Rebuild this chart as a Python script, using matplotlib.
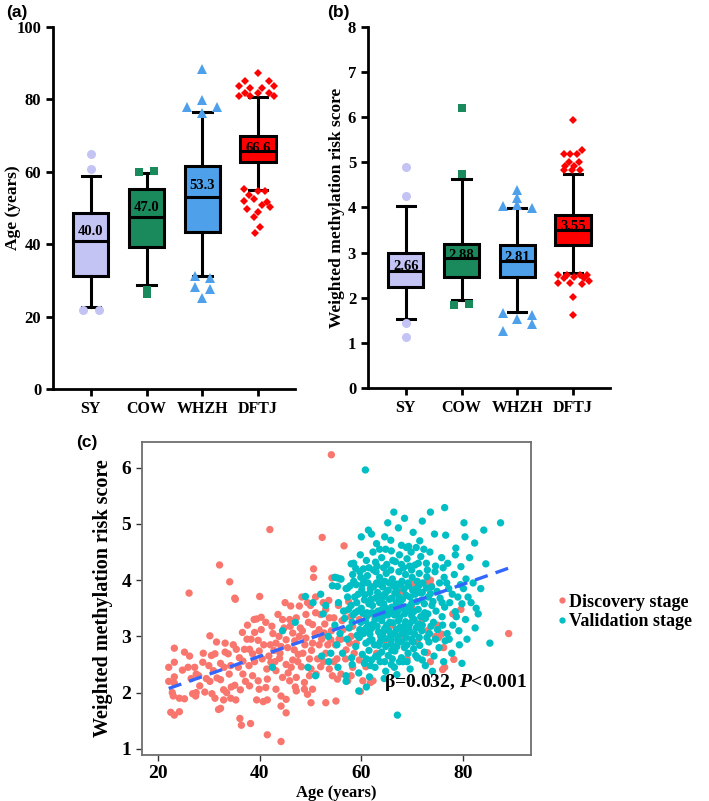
import numpy as np
import matplotlib.pyplot as plt
from matplotlib.lines import Line2D

plt.rcParams['font.family'] = ['Liberation Serif', 'DejaVu Serif']
plt.rcParams['font.weight'] = 'bold'
plt.rcParams['mathtext.fontset'] = 'custom'
plt.rcParams['mathtext.it'] = 'Liberation Serif:italic:bold'
plt.rcParams['mathtext.rm'] = 'Liberation Serif:bold'

groups = ['SY', 'COW', 'WHZH', 'DFTJ']
box_colors = ['#c3c3f4', '#1a8a5c', '#4ea0ea', '#ff0000']
flier_markers = ['o', 's', '^', 'D']
flier_sizes = [6.5, 5.5, 6.5, 4.5]

# panel (a): age per cohort
age_q1 = [31.2, 39.2, 43.4, 62.7]
age_med = [41.0, 47.5, 52.9, 65.6]
age_q3 = [48.5, 55.1, 61.7, 69.9]
age_lo = [22.6, 28.7, 31.2, 55.0]
age_hi = [58.8, 59.7, 76.4, 80.6]
age_mean = ['40.0', '47.0', '53.3', '66.6']
age_out = [
    [64.8, 60.7, 21.8, 21.8],
    [60.0, 60.2, 27.4, 26.2],
    [88.5, 79.7, 77.9, 77.9, 76.2, 31.2, 30.7, 28.2, 27.5, 25.2],
    [87.3, 85.0, 85.0, 83.7, 83.2, 83.2, 83.7, 81.8, 81.8, 81.8, 80.9, 80.9, 81.0,
     55.2, 54.8, 54.8, 53.7, 52.4, 52.0, 51.6, 50.7, 50.3, 49.6, 48.8, 47.5, 44.8, 43.0],
]
age_out_dx = [
    [0, 0, -0.14, 0.14],
    [-0.13, 0.13, 0, 0],
    [0, 0, -0.27, 0.27, 0, -0.13, 0.14, -0.13, 0.14, 0],
    [0, -0.23, 0.19, -0.35, -0.14, 0.07, 0.28, -0.23, 0, 0.19, -0.35, -0.14, 0.28,
     -0.26, 0, 0.13, -0.17, -0.08, -0.26, 0.16, 0.07, 0.22, -0.2, 0, -0.08, 0.04, -0.05],
]

# panel (b): weighted methylation risk score per cohort
wmrs_q1 = [2.24, 2.46, 2.46, 3.16]
wmrs_med = [2.59, 2.87, 2.81, 3.50]
wmrs_q3 = [3.00, 3.20, 3.16, 3.84]
wmrs_lo = [1.54, 1.96, 1.69, 2.55]
wmrs_hi = [4.03, 4.64, 3.98, 4.75]
wmrs_mean = ['2.66', '2.88', '2.81', '3.55']
wmrs_out = [
    [4.90, 4.25, 1.44, 1.12],
    [6.21, 4.75, 1.84, 1.86],
    [4.39, 4.21, 4.03, 4.05, 3.98, 1.67, 1.52, 1.62, 1.41, 1.26],
    [5.95, 5.28, 5.19, 5.19, 5.19, 5.00, 5.00, 4.93, 4.93, 4.82, 4.82, 4.82,
     2.50, 2.50, 2.50, 2.50, 2.44, 2.45, 2.44, 2.32, 2.33, 2.31, 2.38, 2.02, 1.61],
]
wmrs_out_dx = [
    [0, 0, 0, 0],
    [0, 0, -0.13, 0.13],
    [0, 0, -0.26, 0, 0.27, -0.26, 0, 0.27, 0.27, -0.26],
    [0, 0.16, -0.17, -0.05, 0.07, -0.08, 0.10, -0.14, 0.01, -0.17, -0.02, 0.13,
     -0.26, -0.11, 0.13, 0.25, -0.17, 0.01, 0.19, -0.26, -0.05, 0.16, 0.28, 0, 0],
]

# panel (c): age vs score, (age, score) pairs
disc = np.array([
    (23.2, 2.79), (23.2, 2.54), (22.1, 2.45), (22.1, 2.20), (23.2, 2.28), (23.2, 2.17),
    (23.0, 1.94), (24.2, 1.90), (25.2, 1.89), (24.2, 1.66), (23.2, 1.60), (25.2, 2.72),
    (26.2, 2.65), (25.9, 2.45), (27.2, 2.45), (27.5, 2.33), (27.5, 2.00), (27.4, 1.94),
    (29.2, 2.01), (28.8, 2.54), (28.9, 2.70), (30.2, 3.01), (30.5, 2.66), (31.2, 2.69),
    (31.5, 2.90), (30.9, 2.39), (30.2, 2.20), (31.6, 2.26), (32.3, 2.23), (32.3, 2.52),
    (33.2, 2.88), (33.2, 2.72), (33.8, 2.69), (34.0, 2.33), (34.3, 2.48), (32.9, 2.05),
    (31.2, 1.90), (31.9, 1.70), (32.3, 1.72), (32.9, 1.87), (34.3, 1.90), (35.3, 1.87),
    (34.4, 2.10), (35.4, 2.77), (35.1, 2.13), (36.1, 1.54), (36.4, 1.42), (38.2, 1.45),
    (36.6, 3.07), (39.0, 3.07), (39.4, 3.31), (40.3, 3.34), (40.3, 3.12), (41.2, 3.25),
    (39.7, 2.93), (37.0, 2.77), (38.0, 2.77), (38.6, 2.69), (39.9, 2.74), (36.7, 2.56),
    (37.9, 2.48), (36.7, 2.33), (38.6, 2.30), (39.7, 2.21), (38.0, 2.12), (39.9, 2.06),
    (41.2, 2.09), (41.5, 2.24), (41.4, 2.42), (42.2, 2.54), (39.4, 1.87), (40.7, 1.84),
    (41.5, 1.87), (41.5, 1.25), (35.2, 3.66), (42.0, 4.90), (32.1, 4.27), (34.1, 3.97),
    (26.1, 3.77), (35.1, 3.68), (40.0, 3.71), (37.5, 2.95), (40.8, 2.85), (41.8, 2.65),
    (42.6, 3.05), (37.2, 2.20), (35.8, 2.45), (29.5, 2.25), (28.2, 2.12), (26.5, 2.25),
    (24.8, 2.40), (22.5, 1.65), (22.8, 2.00), (33.5, 2.00), (36.2, 2.05), (30.6, 1.98),
    (46.1, 3.54), (47.8, 3.54), (49.4, 3.60), (49.1, 3.39), (43.6, 3.39), (44.5, 3.30),
    (45.9, 3.30), (47.2, 3.33), (51.0, 3.42), (52.0, 3.39), (53.0, 3.48), (53.7, 3.33),
    (54.6, 3.33), (50.4, 3.21), (51.7, 3.12), (52.7, 3.06), (49.1, 2.97), (50.4, 2.88),
    (51.7, 2.85), (54.0, 2.94), (54.9, 2.85), (46.5, 3.06), (47.8, 3.00), (45.2, 2.94),
    (44.2, 2.82), (43.2, 2.88), (46.8, 2.76), (48.5, 2.70), (46.5, 2.58), (47.5, 2.55),
    (48.2, 2.46), (46.2, 2.45), (45.2, 2.50), (43.9, 2.61), (43.2, 2.39), (44.5, 2.27),
    (45.9, 2.21), (47.2, 2.27), (48.8, 2.18), (50.1, 2.42), (51.1, 2.33), (52.0, 2.46),
    (53.7, 2.42), (54.3, 2.30), (55.3, 2.24), (56.0, 2.33), (57.3, 2.21), (58.0, 2.30),
    (58.3, 2.45), (43.2, 2.06), (44.2, 1.94), (45.2, 1.88), (47.2, 2.03), (48.8, 2.06),
    (50.4, 2.06), (49.4, 1.97), (44.2, 1.76), (45.2, 1.64), (50.1, 1.82), (53.0, 1.82),
    (55.0, 1.85), (44.2, 1.13), (58.3, 3.18), (59.6, 3.30), (56.4, 3.12), (58.0, 3.00),
    (59.0, 2.88), (57.0, 2.76), (59.6, 2.58), (60.9, 2.46), (62.3, 2.21), (60.3, 2.21),
    (61.8, 2.18), (59.8, 2.02), (54.1, 6.23), (52.3, 4.76), (56.6, 4.61), (55.9, 4.02),
    (50.6, 4.20), (50.6, 4.05), (54.2, 4.04), (48.3, 3.70), (51.0, 3.70), (53.6, 3.64),
    (62.1, 3.88), (55.5, 3.55), (56.8, 3.45), (57.5, 3.62), (45.0, 3.60), (48.0, 3.15),
    (50.0, 3.55), (52.5, 3.60), (56.0, 2.95), (55.2, 2.60), (53.0, 2.70), (49.8, 2.60),
    (44.8, 3.15), (43.8, 3.00), (42.8, 2.75), (62.0, 3.40), (64.0, 3.60), (66.0, 3.20),
    (68.0, 3.00), (70.0, 3.50), (72.0, 3.30), (73.0, 3.10), (68.0, 3.80), (75.0, 3.20),
    (78.0, 3.40), (70.1, 3.93), (73.0, 3.98), (79.6, 3.48), (78.6, 3.36), (73.6, 4.00),
    (73.8, 3.90), (75.2, 2.98), (75.8, 3.04), (89.0, 3.05), (76.4, 2.45), (76.0, 2.41),
    (73.6, 2.55), (78.2, 2.59), (73.0, 2.71), (76.2, 2.80), (74.6, 3.00), (65.0, 2.90),
    (63.0, 2.70), (67.0, 3.50), (61.0, 3.10), (69.0, 2.60), (71.0, 2.90),
    (42.4, 3.18), (43.0, 2.55), (44.0, 2.70), (45.5, 2.80), (46.0, 3.18), (46.9, 2.92),
    (47.6, 2.68), (48.4, 3.10), (48.9, 2.85), (49.6, 3.25), (50.2, 2.75), (50.9, 3.05),
    (51.4, 2.60), (52.2, 2.95), (52.8, 3.22), (53.4, 2.85), (54.1, 3.10), (54.6, 2.55),
    (55.6, 2.95), (56.2, 3.28), (56.9, 2.60), (57.7, 2.88), (58.6, 2.70), (57.9, 3.35),
    (39.0, 2.55), (40.5, 2.60), (38.3, 2.95), (37.6, 3.20), (42.1, 2.85), (36.0, 2.62),
    (34.8, 2.85), (33.0, 2.45), (30.0, 2.48), (28.0, 2.30), (26.8, 1.98), (38.9, 3.30),
    (45.6, 2.35), (49.8, 2.30), (52.6, 2.55), (47.0, 2.10),
])

val = np.array([
    (60.8, 5.96), (60.0, 4.77), (61.4, 4.89), (62.0, 4.82), (63.6, 4.55), (64.6, 4.77),
    (65.2, 5.02), (65.8, 4.71), (66.4, 5.21), (67.3, 4.93), (68.5, 5.10), (69.3, 4.60),
    (70.2, 4.85), (71.5, 4.70), (72.0, 5.05), (73.6, 5.21), (74.4, 4.82), (76.4, 5.29),
    (76.6, 4.80), (78.6, 4.57), (80.2, 5.02), (80.4, 4.77), (82.3, 4.66), (84.1, 4.89),
    (87.4, 5.02), (63.0, 4.65), (67.9, 4.62), (70.8, 4.58),
    (58.5, 4.30), (59.8, 4.45), (61.0, 4.35), (62.3, 4.50), (63.1, 4.25), (64.0, 4.40),
    (65.0, 4.28), (65.9, 4.52), (66.7, 4.33), (67.5, 4.45), (68.3, 4.22), (69.0, 4.38),
    (69.8, 4.50), (70.6, 4.27), (71.7, 4.42), (72.8, 4.30), (73.5, 4.50), (74.6, 4.25),
    (75.8, 4.40), (77.0, 4.30), (78.5, 4.45), (84.5, 4.29), (60.4, 4.20), (64.8, 4.55),
    (68.9, 4.58), (72.3, 4.55), (76.1, 4.22), (79.6, 4.24), (81.3, 4.40),
    (56.0, 4.02), (57.0, 3.85), (58.3, 4.10), (59.0, 3.92), (59.7, 4.15), (60.5, 3.98),
    (61.2, 4.08), (61.8, 3.85), (62.4, 4.18), (63.0, 3.95), (63.6, 4.05), (64.2, 3.88),
    (64.9, 4.12), (65.5, 3.95), (66.1, 4.02), (66.8, 3.86), (67.4, 4.15), (68.0, 3.98),
    (68.7, 4.10), (69.3, 3.90), (70.0, 4.05), (70.7, 3.84), (71.4, 4.12), (72.1, 3.95),
    (72.9, 4.06), (73.8, 3.88), (74.5, 4.15), (75.4, 3.95), (76.3, 4.05), (77.2, 3.85),
    (78.3, 4.10), (79.5, 3.92), (80.6, 4.02), (82.0, 3.95), (83.5, 3.85), (60.1, 3.83),
    (62.9, 4.15), (65.8, 4.18), (69.9, 4.18), (71.0, 3.98), (67.0, 3.93),
    (55.5, 3.60), (56.5, 3.45), (57.3, 3.70), (58.0, 3.55), (58.8, 3.42), (59.4, 3.75),
    (60.0, 3.50), (60.6, 3.65), (61.1, 3.42), (61.7, 3.78), (62.2, 3.55), (62.8, 3.68),
    (63.3, 3.45), (63.9, 3.72), (64.4, 3.58), (65.0, 3.41), (65.5, 3.66), (66.0, 3.52),
    (66.6, 3.77), (67.1, 3.44), (67.7, 3.62), (68.2, 3.50), (68.8, 3.73), (69.4, 3.46),
    (70.0, 3.60), (70.6, 3.75), (71.2, 3.48), (71.9, 3.65), (72.5, 3.42), (73.2, 3.70),
    (73.9, 3.55), (74.7, 3.45), (75.5, 3.68), (76.4, 3.52), (77.4, 3.60), (78.5, 3.44),
    (79.8, 3.58), (81.0, 3.70), (82.6, 3.50), (60.3, 3.41), (61.5, 3.58), (62.5, 3.41),
    (63.6, 3.60), (64.7, 3.76), (65.8, 3.44), (66.9, 3.60), (68.5, 3.40), (69.8, 3.56),
    (71.5, 3.78), (59.1, 3.60), (64.1, 3.48), (67.4, 3.70), (70.3, 3.44),
    (54.8, 3.20), (55.8, 3.05), (56.7, 3.32), (57.6, 3.15), (58.4, 3.38), (59.2, 3.02),
    (59.9, 3.25), (60.5, 3.10), (61.1, 3.36), (61.7, 3.04), (62.3, 3.22), (62.9, 3.35),
    (63.4, 3.08), (64.0, 3.28), (64.6, 3.14), (65.2, 3.38), (65.8, 3.02), (66.3, 3.24),
    (66.9, 3.12), (67.5, 3.34), (68.1, 3.06), (68.7, 3.26), (69.3, 3.15), (69.9, 3.37),
    (70.5, 3.04), (71.2, 3.22), (71.9, 3.10), (72.6, 3.32), (73.4, 3.05), (74.2, 3.25),
    (75.0, 3.12), (75.9, 3.35), (76.9, 3.05), (78.0, 3.20), (79.2, 3.10), (80.5, 3.30),
    (82.4, 3.15), (60.8, 3.28), (62.0, 3.14), (63.8, 3.02), (65.0, 3.20), (66.5, 3.38),
    (68.4, 3.18), (70.1, 3.28), (72.2, 3.38), (61.4, 3.20), (64.3, 3.36), (67.2, 3.00),
    (69.6, 3.08),
    (55.2, 2.85), (56.3, 2.70), (57.2, 2.95), (58.1, 2.62), (58.9, 2.82), (59.6, 2.98),
    (60.2, 2.68), (60.9, 2.88), (61.5, 2.75), (62.1, 2.94), (62.8, 2.64), (63.4, 2.84),
    (64.0, 2.72), (64.7, 2.96), (65.3, 2.66), (65.9, 2.86), (66.6, 2.74), (67.2, 2.92),
    (67.9, 2.62), (68.5, 2.80), (69.2, 2.70), (69.9, 2.95), (70.7, 2.66), (71.5, 2.84),
    (72.4, 2.72), (73.3, 2.90), (74.3, 2.65), (75.3, 2.80), (76.5, 2.92), (77.8, 2.70),
    (79.3, 2.85), (85.3, 2.88), (61.0, 2.60), (63.9, 2.98), (66.1, 2.60), (68.8, 2.98),
    (71.0, 2.62),
    (55.4, 2.45), (57.0, 2.30), (58.2, 2.50), (59.5, 2.35), (60.6, 2.52), (61.6, 2.28),
    (62.7, 2.45), (63.7, 2.55), (64.8, 2.38), (65.9, 2.50), (67.0, 2.32), (68.2, 2.55),
    (69.6, 2.42), (71.1, 2.62), (79.8, 2.52), (72.6, 2.48), (74.0, 2.38), (76.2, 2.55),
    (62.0, 2.58), (66.5, 2.45), (59.5, 2.03), (67.1, 1.60), (57.0, 2.20), (61.0, 2.10),
    (64.5, 2.25),
    (49.0, 3.71), (44.5, 3.10), (42.5, 2.45), (47.0, 3.25), (49.5, 2.45), (51.0, 2.30),
    (50.5, 3.60), (52.5, 3.40), (53.5, 3.00), (54.0, 2.70), (52.0, 3.75), (53.0, 3.55),
    (54.3, 3.90), (54.8, 4.05), (53.6, 2.55), (52.2, 2.65), (55.3, 4.04), (55.3, 3.89),
    (58.0, 4.29), (58.9, 4.21), (58.5, 3.98), (57.3, 3.86),
    # dense core of the validation cloud
    (60.2, 3.92), (60.7, 3.74), (61.3, 3.95), (61.9, 3.66), (62.4, 3.88), (62.7, 3.30),
    (63.2, 3.78), (63.5, 3.93), (63.8, 3.36), (64.3, 3.70), (64.6, 3.98), (64.9, 3.50),
    (65.3, 3.82), (65.6, 3.25), (66.0, 3.68), (66.3, 3.90), (66.7, 3.48), (67.0, 3.81),
    (67.3, 3.28), (67.8, 3.92), (68.1, 3.66), (68.4, 3.84), (68.9, 3.52), (69.2, 3.95),
    (69.6, 3.70), (70.1, 3.82), (70.4, 3.30), (70.9, 3.62), (71.3, 3.90), (71.7, 3.35),
    (72.0, 3.78), (72.4, 3.58), (72.8, 3.86), (73.1, 3.40), (73.6, 3.76), (74.1, 3.62),
    (60.4, 3.05), (61.0, 3.15), (61.6, 2.92), (62.1, 3.42), (62.6, 2.85), (63.1, 3.18),
    (63.7, 2.90), (64.2, 3.05), (64.8, 2.82), (65.4, 3.10), (65.9, 2.95), (66.4, 3.05),
    (67.0, 2.82), (67.6, 3.16), (68.0, 2.90), (68.6, 3.08), (69.0, 2.85), (69.5, 3.22),
    (70.2, 2.90), (70.8, 3.15), (71.4, 2.98), (72.0, 3.20), (72.9, 2.98), (73.7, 3.18),
    (59.3, 3.45), (59.7, 3.12), (58.7, 3.70), (58.2, 3.25), (57.8, 3.90), (57.5, 3.48),
    (59.9, 4.05), (61.5, 4.22), (62.8, 4.32), (64.4, 4.22), (66.2, 4.35), (67.9, 4.28),
    (69.5, 4.25), (71.2, 4.30), (73.0, 4.18), (74.9, 3.80), (75.9, 3.60), (76.8, 3.95),
    (77.9, 3.75), (79.0, 3.70), (80.1, 3.85), (81.6, 3.60), (74.6, 2.95), (76.0, 3.20),
    (77.3, 2.95), (78.7, 3.35), (80.8, 2.95), (83.0, 3.40), (61.8, 2.48), (63.3, 2.66),
    (64.6, 2.55), (66.0, 2.75), (67.5, 2.55), (69.0, 2.55), (70.3, 2.78), (72.0, 2.58),
])

beta = 0.032
intercept = 1.366

fig = plt.figure(figsize=(7.09, 8.01), dpi=100)


def box_panel(ax, q1, med, q3, lo, hi, labels, outs, dxs, ylim, yticks, ylabel, label_x):
    stats = []
    for i in range(len(groups)):
        stats.append(dict(med=med[i], q1=q1[i], q3=q3[i], whislo=lo[i], whishi=hi[i], fliers=[]))
    bp = ax.bxp(stats, positions=range(len(groups)), widths=0.63, capwidths=0.33,
                patch_artist=True, showfliers=False,
                boxprops=dict(linewidth=2.2, edgecolor='black'),
                whiskerprops=dict(linewidth=2.2, color='black'),
                capprops=dict(linewidth=2.2, color='black'),
                medianprops=dict(linewidth=2.2, color='black'))
    for patch, c in zip(bp['boxes'], box_colors):
        patch.set_facecolor(c)
    for i in range(len(groups)):
        xs = i + np.array(dxs[i])
        ax.plot(xs, outs[i], linestyle='none', marker=flier_markers[i],
                markersize=flier_sizes[i], color=box_colors[i], markeredgewidth=0, zorder=4)
        ax.text(i, (med[i] + q3[i]) / 2 - 0.012 * (ylim[1] - ylim[0]), labels[i],
                ha='center', va='center', fontsize=10.5, fontweight='bold', zorder=5)
    ax.set_xlim(-0.68, 3.66)
    ax.set_ylim(*ylim)
    ax.set_yticks(yticks)
    ax.set_xticks(range(len(groups)))
    ax.set_xticklabels(groups, fontsize=11.5, fontweight='bold')
    ax.set_ylabel(ylabel, fontsize=12.5, fontweight='bold')
    ax.yaxis.set_label_coords(label_x, 0.5)
    for s in ['top', 'right']:
        ax.spines[s].set_visible(False)
    for s in ['left', 'bottom']:
        ax.spines[s].set_linewidth(2.0)
    ax.tick_params(axis='both', width=2.0, length=5, direction='out')
    ax.tick_params(axis='y', labelsize=12)
    for t in ax.get_yticklabels():
        t.set_fontweight('bold')


ax_a = fig.add_axes([0.0748, 0.5144, 0.341, 0.452])
box_panel(ax_a, age_q1, age_med, age_q3, age_lo, age_hi, age_mean, age_out, age_out_dx,
          (0, 100), [0, 20, 40, 60, 80, 100], 'Age (years)', -0.133)

ax_b = fig.add_axes([0.519, 0.5156, 0.341, 0.4507])
box_panel(ax_b, wmrs_q1, wmrs_med, wmrs_q3, wmrs_lo, wmrs_hi, wmrs_mean, wmrs_out, wmrs_out_dx,
          (0, 8), range(9), 'Weighted methylation risk score', -0.095)

# panel (c)
ax_c = fig.add_axes([0.200, 0.0574, 0.549, 0.391])
red = '#f8766d'
cyan = '#00bfc4'
ax_c.scatter(disc[:, 0], disc[:, 1], s=28, color=red, edgecolors='none', zorder=2)
ax_c.scatter(val[:, 0], val[:, 1], s=28, color=cyan, edgecolors='none', zorder=3)
all_age = np.concatenate([disc[:, 0], val[:, 0]])
fx = np.array([all_age.min(), all_age.max()])
ax_c.plot(fx, intercept + beta * fx, color='#3366ff', lw=2.4, dashes=(4, 2.5), zorder=4)
ax_c.set_xlim(16.8, 93.4)
ax_c.set_ylim(0.89, 6.46)
ax_c.set_xticks([20, 40, 60, 80])
ax_c.set_yticks([1, 2, 3, 4, 5, 6])
for s in ax_c.spines.values():
    s.set_color('#6e6e6e')
    s.set_linewidth(1.3)
ax_c.tick_params(axis='both', colors='#333333', width=1.0, length=4, labelsize=14)
for t in ax_c.get_xticklabels() + ax_c.get_yticklabels():
    t.set_fontweight('bold')
    t.set_color('black')
ax_c.set_xlabel('Age (years)', fontsize=12, fontweight='bold', labelpad=2)
ax_c.set_ylabel('Weighted methylation risk score', fontsize=14.5, fontweight='bold', labelpad=6)
ax_c.text(92.6, 2.18, r'β=0.032, $\it{P}$<0.001', ha='right', va='center',
          fontsize=14, fontweight='bold')

handles = [Line2D([], [], linestyle='none', marker='o', markersize=3.5, color=red, label='Discovery stage'),
           Line2D([], [], linestyle='none', marker='o', markersize=3.5, color=cyan, label='Validation stage')]
fig.legend(handles=handles, loc='center left', bbox_to_anchor=(0.785, 0.236), frameon=False,
           prop=dict(family='Liberation Serif', weight='bold', size=13),
           handletextpad=0.1, labelspacing=0.15, handlelength=0.6, borderaxespad=0,
           borderpad=0)

fig.text(0.008, 0.985, '(a)', family='Liberation Sans', fontweight='bold', fontsize=12.5, va='center')
fig.text(0.462, 0.985, '(b)', family='Liberation Sans', fontweight='bold', fontsize=12.5, va='center')
fig.text(0.108, 0.447, '(c)', family='Liberation Sans', fontweight='bold', fontsize=12.5, va='center')

fig.savefig('out.png', dpi=100)
